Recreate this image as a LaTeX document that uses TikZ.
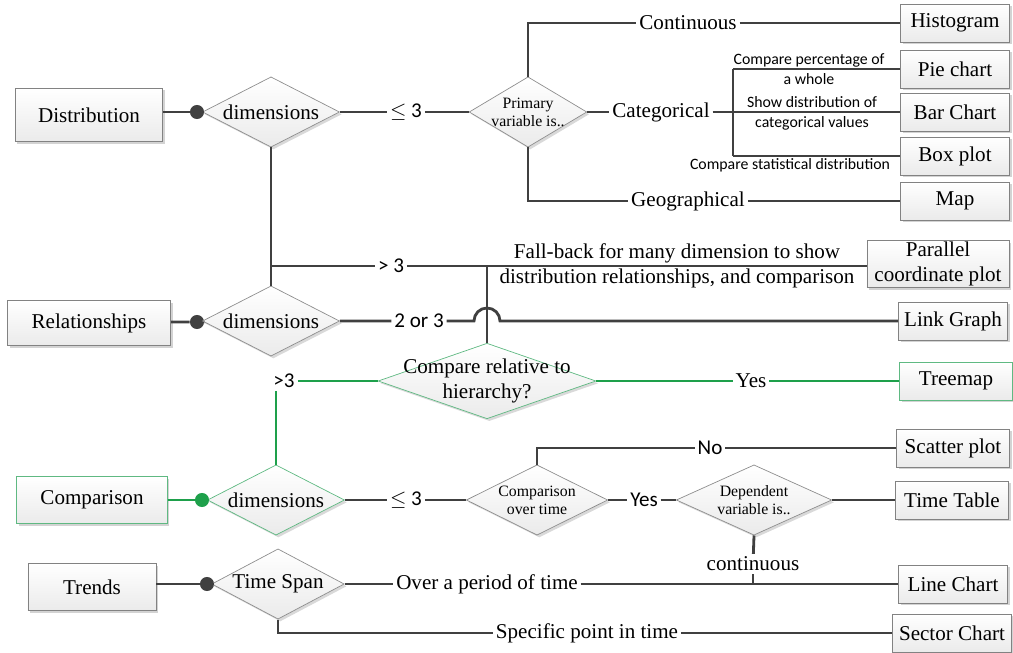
\documentclass[tikz,border=0pt]{standalone}
\usepackage{fontspec}
\setmainfont{Liberation Serif}
\newfontfamily\calfont{Carlito}
\usetikzlibrary{shapes,shadows,positioning}

\definecolor{linegray}{RGB}{64,64,64}
\definecolor{edgegray}{RGB}{130,130,130}
\definecolor{mygreen}{RGB}{30,160,75}
\definecolor{lightgreen}{RGB}{95,185,130}

\tikzset{
	box/.style={draw=edgegray, top color=white, bottom color=gray!16, font=\fontsize{12}{14}\selectfont, align=center, inner sep=0.5pt, minimum width=62pt, minimum height=21.5pt, drop shadow={shadow xshift=1.3pt, shadow yshift=-1.3pt, fill=gray, opacity=.35}},
	decision/.style={diamond, draw=edgegray!90, top color=white, bottom color=gray!16, font=\fontsize{12}{14}\selectfont, align=center, inner sep=0pt, drop shadow={shadow xshift=1.3pt, shadow yshift=-1.3pt, fill=gray, opacity=.3}},
	small/.style={font=\fontsize{9}{10.2}\selectfont},
	dot/.style={circle, fill=linegray, inner sep=0pt, minimum size=8pt},
	lbl/.style={font=\fontsize{12}{14.2}\selectfont, align=center, inner sep=1.5pt},
	sanslbl/.style={font=\calfont\fontsize{12}{14}\selectfont, inner sep=1.5pt},
	note/.style={font=\calfont\fontsize{9}{11.3}\selectfont, align=center, inner sep=0pt},
	line/.style={draw=linegray, line width=1.6pt},
	greenline/.style={draw=mygreen, line width=1.6pt},
}

\begin{document}
\begin{tikzpicture}[x=0.02cm, y=-0.02cm]
	\useasboundingbox (0,0) rectangle (1013,652);

	\node[box, minimum width=84pt, minimum height=30.5pt] (distr) at (89,115) {Distribution};
	\node[dot] (d1) at (197,112) {};
	\node[decision, shape aspect=1.95, minimum width=78pt, minimum height=40pt] (dim1) at (271,112) {dimensions};
	\node[sanslbl] (le1) at (406,112) {$\leq$ 3};
	\node[decision, small, shape aspect=1.67, minimum width=67pt, minimum height=40pt, inner sep=-3pt] (prim) at (528,112) {Primary\\variable is..};
	\node[lbl] (cont) at (688,23) {Continuous};
	\node[lbl] (categ) at (661,112) {Categorical};
	\node[lbl] (geo) at (688,201) {Geographical};
	\coordinate (jc) at (733,112);
	\node[box] (hist) at (955,23) {Histogram};
	\node[box] (pie) at (955,69) {Pie chart};
	\node[box] (bar) at (955,112) {Bar Chart};
	\node[box] (boxp) at (955,156) {Box plot};
	\node[box] (map) at (955,201) {Map};
	\node[note] (n1) at (809,69) {Compare percentage of\\a whole};
	\node[note] (n2) at (812,113) {Show distribution of\\categorical values};
	\node[note] (n3) at (790,165) {Compare statistical distribution};

	\draw[line] (distr.east |- d1) -- (d1) -- (dim1);
	\draw[line] (dim1) -- (le1) -- (prim);
	\draw[line] (prim.north) |- (cont);
	\draw[line] (cont) -- (hist);
	\draw[line] (prim) -- (categ) -- (jc);
	\draw[line] (pie.west -| jc) -- (boxp.west -| jc);
	\foreach \b in {pie,bar,boxp}
		\draw[line] (\b.west -| jc) -- (\b.west);
	\draw[line] (prim.south) |- (geo);
	\draw[line] (geo) -- (map);

	\node[box, minimum width=93pt, minimum height=25.5pt] (relat) at (89,323) {Relationships};
	\node[dot] (d2) at (197,322) {};
	\node[decision, shape aspect=1.95, minimum width=78pt, minimum height=40pt] (dim2) at (271,321) {dimensions};
	\coordinate (jf) at (271,266);
	\coordinate (jv) at (487,266);
	\node[sanslbl] (gt1) at (391,266) {> 3};
	\node[lbl] (fall) at (677,265.5) {Fall-back for many dimension to show\\distribution relationships, and comparison};
	\node[box, minimum width=81pt, minimum height=27pt, font=\fontsize{12}{14}\selectfont] (para) at (938,264) {Parallel\\coordinate plot};
	\node[sanslbl] (or) at (419,321) {2 or 3};
	\coordinate (hopl) at (474,321);
	\node[box] (link) at (953,321) {Link Graph};

	\draw[line] (relat.east |- d2) -- (d2) -- (dim2);
	\draw[line] (dim1.south) -- (dim2.north);
	\draw[line] (jf) -- (gt1) -- (para.west |- jf);
	\draw[line] (dim2) -- (or) -- (hopl) arc[start angle=180, end angle=360, radius=13] -- (link);

	\node[box, draw=lightgreen, minimum width=85.6pt, minimum height=26.6pt] (compar) at (92,500) {Comparison};
	\node[dot, fill=mygreen] (d3) at (202,500) {};
	\node[decision, draw=lightgreen, shape aspect=1.95, minimum width=78pt, minimum height=40pt] (dim3) at (276,500) {dimensions};
	\node[sanslbl] (gt2) at (284,381) {>3};
	\node[decision, draw=lightgreen, shape aspect=2.88, minimum width=124pt, minimum height=43pt, inner sep=-6pt] (cmp) at (487,381) {Compare relative to\\hierarchy?};
	\node[lbl] (yes1) at (751,381) {Yes};
	\node[box, draw=lightgreen, minimum width=64pt] (tree) at (956,381) {Treemap};

	\draw[line] (jv) -- (cmp.north);
	\draw[greenline] (compar) -- (d3) -- (dim3);
	\draw[greenline] (dim3.north) -- (dim3.north |- gt2.south);
	\draw[greenline] (gt2) -- (cmp) -- (yes1) -- (tree);

	\node[sanslbl] (le2) at (406,500) {$\leq$ 3};
	\node[decision, small, shape aspect=2, minimum width=80.5pt, minimum height=40pt, inner sep=-2pt] (cot) at (537,500) {Comparison\\over time};
	\node[sanslbl] (no) at (710,448) {No};
	\node[box, minimum width=64pt] (scat) at (953,448) {Scatter plot};
	\node[sanslbl] (yes2) at (644,500) {Yes};
	\node[decision, small, shape aspect=2.2, minimum width=88.5pt, minimum height=40pt, inner sep=-2pt] (dep) at (754,500) {Dependent\\variable is..};
	\node[box, minimum width=64pt] (ttab) at (952,500) {Time Table};
	\node[lbl] (contin) at (753,564) {continuous};
	\node[box] (linec) at (953,584) {Line Chart};

	\draw[line] (dim3) -- (le2) -- (cot);
	\draw[line] (cot.north) |- (no);
	\draw[line] (no) -- (scat);
	\draw[line] (cot) -- (yes2) -- (dep);
	\draw[line] (dep) -- (ttab);
	\draw[line] (dep.south) -- (contin);
	\draw[line] (contin) -- (contin |- linec);

	\node[box, minimum width=73pt, minimum height=27pt] (trend) at (92,587) {Trends};
	\node[dot] (d4) at (207,584) {};
	\node[decision, shape aspect=1.87, minimum width=75.4pt, minimum height=40pt] (tspan) at (278,584) {Time Span};
	\node[lbl] (period) at (487,584) {Over a period of time};
	\node[lbl] (point) at (587,633) {Specific point in time};
	\node[box, minimum width=67.5pt] (sect) at (952,633) {Sector Chart};

	\draw[line] (trend.east |- d4) -- (d4) -- (tspan);
	\draw[line] (tspan) -- (period) -- (linec);
	\draw[line] (tspan.south) |- (point);
	\draw[line] (point) -- (sect);
\end{tikzpicture}
\end{document}
